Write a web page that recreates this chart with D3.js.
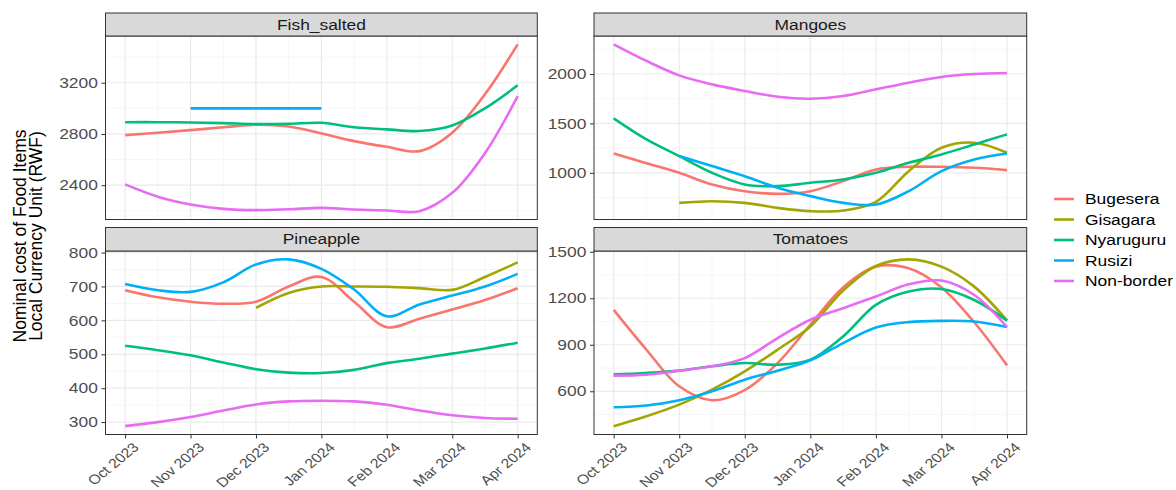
<!DOCTYPE html>
<html>
<head>
<meta charset="utf-8">
<script src="https://cdn.jsdelivr.net/npm/d3@7"></script>
<style>
  body { margin: 0; background: #fff; }
  text { font-family: "Liberation Sans", Arial, sans-serif; }
</style>
</head>
<body>
<svg id="chart" width="1176" height="490"></svg>
<script>
// months on the x axis, curves read every half month
const monthLabels = ["Oct 2023", "Nov 2023", "Dec 2023", "Jan 2024", "Feb 2024", "Mar 2024", "Apr 2024"];
const monthIdx = [0, 1, 2, 3, 4, 5, 6];
const xSteps = [0, 0.5, 1, 1.5, 2, 2.5, 3, 3.5, 4, 4.5, 5, 5.5, 6];

const markets = ["Bugesera", "Gisagara", "Nyaruguru", "Rusizi", "Non-border"];
const marketColors = ["#F8766D", "#A3A500", "#00BF7D", "#00B0F6", "#E76BF3"];

// Fish_salted
const fishBugesera = [2791, 2810, 2830, 2852, 2872, 2858, 2804, 2744, 2700, 2666, 2810, 3110, 3500];
const fishGisagara = [null, null, null, null, null, null, null, null, null, null, null, null, null];
const fishNyaruguru = [2892, 2892, 2890, 2885, 2878, 2880, 2887, 2853, 2836, 2823, 2866, 3000, 3180];
const fishRusizi = [null, null, 3000, 3000, 3000, 3000, 3000, null, null, null, null, null, null];
const fishNonBorder = [2406, 2310, 2249, 2215, 2205, 2212, 2223, 2210, 2202, 2197, 2340, 2650, 3095];
const fishTicks = [2400, 2800, 3200];

// Mangoes
const mangoBugesera = [1196, 1098, 1000, 882, 814, 787, 814, 916, 1034, 1061, 1061, 1051, 1027];
const mangoGisagara = [null, null, 696, 713, 696, 645, 612, 618, 706, 1017, 1253, 1304, 1203];
const mangoNyaruguru = [1551, 1338, 1169, 1000, 882, 865, 899, 933, 1000, 1101, 1186, 1287, 1389];
const mangoRusizi = [null, null, 1169, 1068, 966, 848, 764, 696, 679, 814, 1017, 1135, 1196];
const mangoNonBorder = [2300, 2132, 1986, 1895, 1828, 1770, 1750, 1777, 1845, 1912, 1970, 2000, 2010];
const mangoTicks = [1000, 1500, 2000];

// Pineapple
const pineBugesera = [689, 668, 655, 649, 655, 700, 728, 655, 580, 605, 632, 660, 695];
const pineGisagara = [null, null, null, null, 637, 681, 700, 700, 699, 695, 690, 728, 771];
const pineNyaruguru = [525, 512, 497, 476, 456, 446, 445, 454, 474, 487, 502, 517, 534];
const pineRusizi = [707, 689, 684, 712, 765, 780, 752, 691, 612, 647, 673, 700, 737];
const pineNonBorder = [288, 300, 315, 334, 352, 361, 363, 361, 351, 334, 320, 312, 310];
const pineTicks = [300, 400, 500, 600, 700, 800];

// Tomatoes
const tomBugesera = [1125, 868, 632, 542, 608, 782, 1029, 1270, 1404, 1393, 1270, 1045, 767];
const tomGisagara = [375, 439, 514, 611, 729, 868, 1018, 1250, 1408, 1451, 1404, 1275, 1056];
const tomNyaruguru = [709, 718, 733, 761, 782, 771, 804, 954, 1157, 1243, 1260, 1189, 1056];
const tomRusizi = [497, 508, 542, 600, 675, 733, 799, 911, 1011, 1046, 1054, 1050, 1014];
const tomNonBorder = [701, 707, 733, 761, 814, 943, 1061, 1136, 1211, 1290, 1314, 1221, 1014];
const tomTicks = [600, 900, 1200, 1500];

const K = 1.2; // text in the source is stretched sideways
const FONT_TICK = 14.5;
const FONT_XLAB = 13.2;
const FONT_STRIP = 14.5;

var panels = [
  { title: "Fish_salted", col: 0, row: 0, ticks: fishTicks,
    series: [fishBugesera, fishGisagara, fishNyaruguru, fishRusizi, fishNonBorder] },
  { title: "Mangoes", col: 1, row: 0, ticks: mangoTicks,
    series: [mangoBugesera, mangoGisagara, mangoNyaruguru, mangoRusizi, mangoNonBorder] },
  { title: "Pineapple", col: 0, row: 1, ticks: pineTicks,
    series: [pineBugesera, pineGisagara, pineNyaruguru, pineRusizi, pineNonBorder] },
  { title: "Tomatoes", col: 1, row: 1, ticks: tomTicks,
    series: [tomBugesera, tomGisagara, tomNyaruguru, tomRusizi, tomNonBorder] }
];

var colX = [[105.5, 537.3], [594, 1026.7]];
var rowY = [[13, 36, 219.5], [227.5, 251, 434.5]]; // strip top, panel top, panel bottom

var svg = d3.select("#chart");

function drawPanel(p) {
  var xr = colX[p.col];
  var yr = rowY[p.row];
  var x = d3.scaleLinear().domain([-0.3, 6.3]).range(xr);

  var vals = p.series.flat().filter(v => v != null);
  var ext = d3.extent(vals);
  var pad = (ext[1] - ext[0]) * 0.05;
  var y = d3.scaleLinear().domain([ext[0] - pad, ext[1] + pad]).range([yr[2], yr[1]]);

  var g = svg.append("g");

  g.append("rect")
    .attr("x", xr[0]).attr("y", yr[1])
    .attr("width", xr[1] - xr[0]).attr("height", yr[2] - yr[1])
    .attr("fill", "#fff");

  // minor grid
  var step = p.ticks[1] - p.ticks[0];
  var minorY = p.ticks.map(t => t - step / 2).concat([p.ticks[p.ticks.length - 1] + step / 2])
    .filter(v => v > y.domain()[0] && v < y.domain()[1]);
  var minorX = xSteps.filter(v => v % 1 != 0);

  g.selectAll(".minorY").data(minorY).enter().append("line")
    .attr("x1", xr[0]).attr("x2", xr[1])
    .attr("y1", d => y(d)).attr("y2", d => y(d))
    .attr("stroke", "#F2F2F2").attr("stroke-width", 0.7);
  g.selectAll(".minorX").data(minorX).enter().append("line")
    .attr("x1", d => x(d)).attr("x2", d => x(d))
    .attr("y1", yr[1]).attr("y2", yr[2])
    .attr("stroke", "#F2F2F2").attr("stroke-width", 0.7);

  // major grid
  g.selectAll(".majorY").data(p.ticks).enter().append("line")
    .attr("x1", xr[0]).attr("x2", xr[1])
    .attr("y1", d => y(d)).attr("y2", d => y(d))
    .attr("stroke", "#EBEBEB").attr("stroke-width", 1.2);
  g.selectAll(".majorX").data(monthIdx).enter().append("line")
    .attr("x1", d => x(d)).attr("x2", d => x(d))
    .attr("y1", yr[1]).attr("y2", yr[2])
    .attr("stroke", "#EBEBEB").attr("stroke-width", 1.2);

  var line = d3.line()
    .defined(d => d.v != null)
    .x(d => x(d.t))
    .y(d => y(d.v))
    .curve(d3.curveCatmullRom.alpha(0.5));

  p.series.forEach(function(s, i) {
    var pts = xSteps.map((t, j) => ({ t: t, v: s[j] }));
    if (pts.every(d => d.v == null)) return;
    g.append("path")
      .attr("d", line(pts))
      .attr("fill", "none")
      .attr("stroke", marketColors[i])
      .attr("stroke-width", 2.6)
      .attr("stroke-linecap", "butt");
  });

  // panel border
  g.append("rect")
    .attr("x", xr[0]).attr("y", yr[1])
    .attr("width", xr[1] - xr[0]).attr("height", yr[2] - yr[1])
    .attr("fill", "none").attr("stroke", "#333").attr("stroke-width", 1);

  // strip
  g.append("rect")
    .attr("x", xr[0]).attr("y", yr[0])
    .attr("width", xr[1] - xr[0]).attr("height", yr[1] - yr[0])
    .attr("fill", "#D9D9D9").attr("stroke", "#333").attr("stroke-width", 1);
  g.append("text")
    .attr("transform", "translate(" + ((xr[0] + xr[1]) / 2) + "," + ((yr[0] + yr[1]) / 2) + ") scale(" + K + ",1)")
    .attr("text-anchor", "middle")
    .attr("dy", "0.36em")
    .attr("font-size", FONT_STRIP)
    .attr("fill", "#1A1A1A")
    .text(p.title);

  // y axis
  var ya = g.append("g")
    .attr("transform", "translate(" + xr[0] + ",0)")
    .call(d3.axisLeft(y).tickValues(p.ticks).tickFormat(d3.format("d")).tickSize(4).tickPadding(2.4));
  ya.select(".domain").remove();
  ya.selectAll("line").attr("stroke", "#333");
  ya.selectAll("text")
    .attr("font-size", FONT_TICK)
    .attr("fill", "#4D4D4D")
    .attr("transform", "scale(" + K + ",1)");

  // x axis only under the bottom row
  if (p.row == 1) {
    var xa = g.append("g")
      .attr("transform", "translate(0," + yr[2] + ")")
      .call(d3.axisBottom(x).tickValues(monthIdx).tickFormat(i => monthLabels[i]).tickSize(4));
    xa.select(".domain").remove();
    xa.selectAll("line").attr("stroke", "#333");
    xa.selectAll("text")
      .attr("font-size", FONT_XLAB)
      .attr("fill", "#4D4D4D")
      .attr("text-anchor", "end")
      .attr("x", 0).attr("y", 0)
      .attr("dy", "0.72em")
      .attr("transform", "translate(6,7) scale(" + K + ",1) rotate(-45)");
  }
}

panels.forEach(drawPanel);

// legend
var legend = svg.append("g");
var legendY = d3.scalePoint().domain(markets).range([199, 281]);
markets.forEach(function(m, i) {
  legend.append("line")
    .attr("x1", 1054).attr("x2", 1074)
    .attr("y1", legendY(m)).attr("y2", legendY(m))
    .attr("stroke", marketColors[i]).attr("stroke-width", 2.6);
  legend.append("text")
    .attr("transform", "translate(1085," + legendY(m) + ") scale(" + K + ",1)")
    .attr("dy", "0.36em")
    .attr("font-size", FONT_STRIP)
    .attr("fill", "#000")
    .text(m);
});

// y axis title
var titleLines = ["Nominal cost of Food Items", "Local Currency Unit (RWF)"];
titleLines.forEach(function(t, i) {
  svg.append("text")
    .attr("transform", "translate(" + (19.5 + i * 16) + ",236) rotate(-90)")
    .attr("text-anchor", "middle")
    .attr("dy", "0.36em")
    .attr("font-size", 17.5)
    .attr("fill", "#000")
    .text(t);
});
</script>
</body>
</html>
